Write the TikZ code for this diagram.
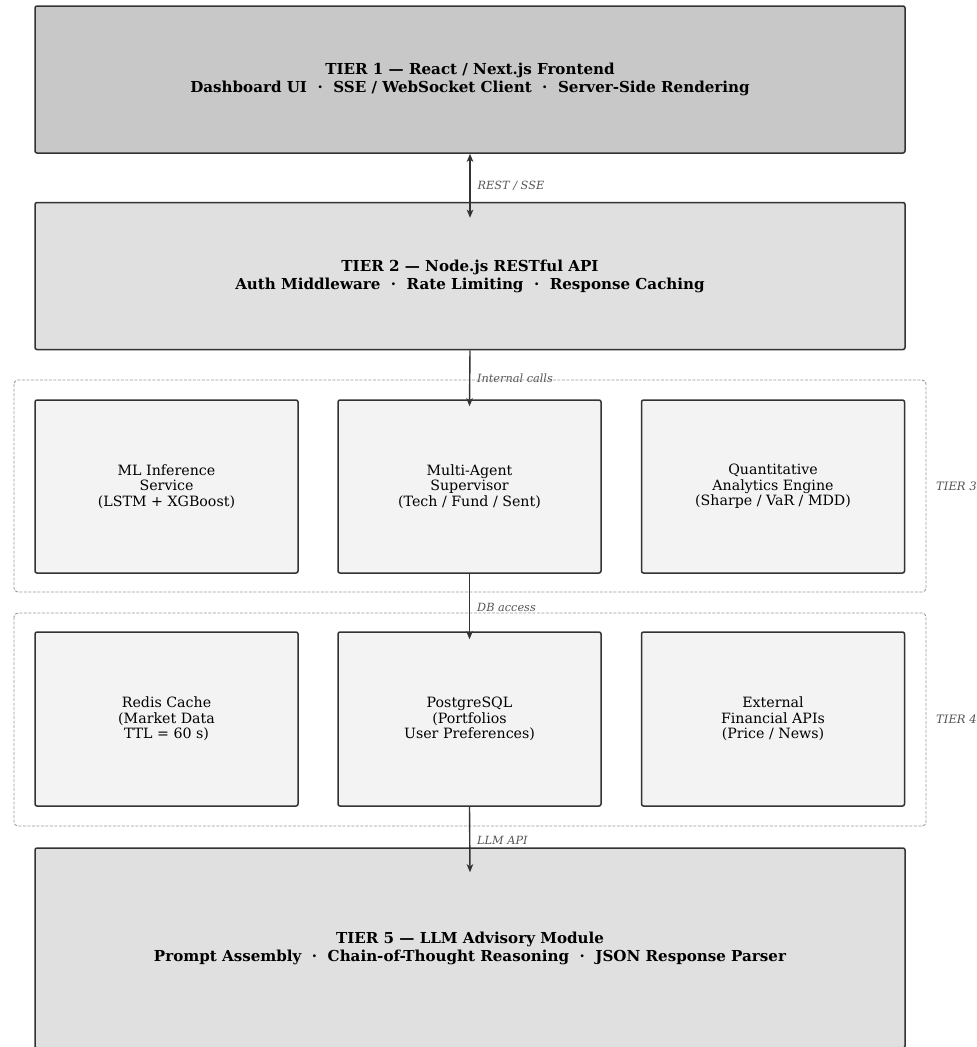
\documentclass[tikz,border=0pt]{standalone}
\usepackage{fontspec}
\setmainfont{DejaVu Serif}
\usetikzlibrary{arrows.meta}
\definecolor{tierA}{HTML}{C8C8C8}
\definecolor{tierB}{HTML}{E0E0E0}
\definecolor{tierC}{HTML}{F3F3F3}
\definecolor{edgec}{HTML}{333333}
\definecolor{labc}{HTML}{555555}
\definecolor{grpc}{HTML}{999999}
\tikzset{
  tierbox/.style={draw=edgec, line width=1.5pt, rounded corners=2pt, align=center,
    minimum width=870pt, font=\fontsize{15.1}{18}\selectfont\bfseries, inner sep=0pt},
  compbox/.style={draw=edgec, line width=1.5pt, rounded corners=2pt, align=center, fill=tierC,
    minimum width=263pt, minimum height=173pt, font=\fontsize{14.2}{15.6}\selectfont, inner sep=0pt},
  grpbox/.style={draw=grpc, dash pattern=on 3pt off 1.5pt, line width=0.9pt, rounded corners=4pt},
  arrtip/.tip={Stealth[length=8pt,width=6.5pt,inset=2pt]},
  conn/.style={draw=edgec, line width=1.4pt, -arrtip},
  connlab/.style={text=labc, font=\fontsize{11.3}{13}\selectfont\itshape, anchor=west, inner sep=0pt},
  tierlab/.style={text=labc, font=\fontsize{11.6}{13}\selectfont\itshape, anchor=west, inner sep=0pt}
}
\begin{document}
\begin{tikzpicture}[x=1pt,y=-1pt]
\useasboundingbox (0,0) rectangle (977,1047);
\clip (0,0) rectangle (977,1047);
% group containers
\draw[grpbox] (14,380) rectangle (926,592);
\draw[grpbox] (14,613) rectangle (926,826);
\node[tierlab] (g3) at (936,486) {TIER 3};
\node[tierlab] (g4) at (936,719) {TIER 4};
% tiers
\node[tierbox, fill=tierA, minimum height=147pt] (t1) at (470,79.5)
  {TIER 1 — React / Next.js Frontend\\Dashboard UI~~·~~SSE / WebSocket Client~~·~~Server-Side Rendering};
\node[tierbox, fill=tierB, minimum height=147pt] (t2) at (470,276)
  {TIER 2 — Node.js RESTful API\\Auth Middleware~~·~~Rate Limiting~~·~~Response Caching};
\node[compbox] (m1) at (166.5,486.5) {ML Inference\\Service\\(LSTM + XGBoost)};
\node[compbox] (m2) at (469.5,486.5) {Multi-Agent\\Supervisor\\(Tech / Fund / Sent)};
\node[compbox] (m3) at (773,486.5) {Quantitative\\Analytics Engine\\(Sharpe / VaR / MDD)};
\node[compbox, minimum height=174pt] (p1) at (166.5,719) {Redis Cache\\(Market Data\\TTL = 60 s)};
\node[compbox, minimum height=174pt] (p2) at (469.5,719) {PostgreSQL\\(Portfolios\\User Preferences)};
\node[compbox, minimum height=174pt] (p3) at (773,719) {External\\Financial APIs\\(Price / News)};
\node[tierbox, fill=tierB, minimum height=200pt] (t5) at (470,948)
  {TIER 5 — LLM Advisory Module\\Prompt Assembly~~·~~Chain-of-Thought Reasoning~~·~~JSON Response Parser};
% connectors
\draw[conn, arrtip-arrtip] (t1.south) -- ([yshift=-16pt]t2.north)
  node[connlab, pos=0.5, xshift=7pt] (l1) {REST / SSE};
\draw[conn] (t2.south) -- ([yshift=-7pt]m2.north);
\node[connlab] (l2) at (477,378) {Internal calls};
\draw[conn] (m2.south) -- ([yshift=-8pt]p2.north);
\node[connlab] (l3) at (477,607) {DB access};
\draw[conn] (p2.south) -- ([yshift=-25pt]t5.north);
\node[connlab] (l4) at (477,840) {LLM API};
\end{tikzpicture}
\end{document}
